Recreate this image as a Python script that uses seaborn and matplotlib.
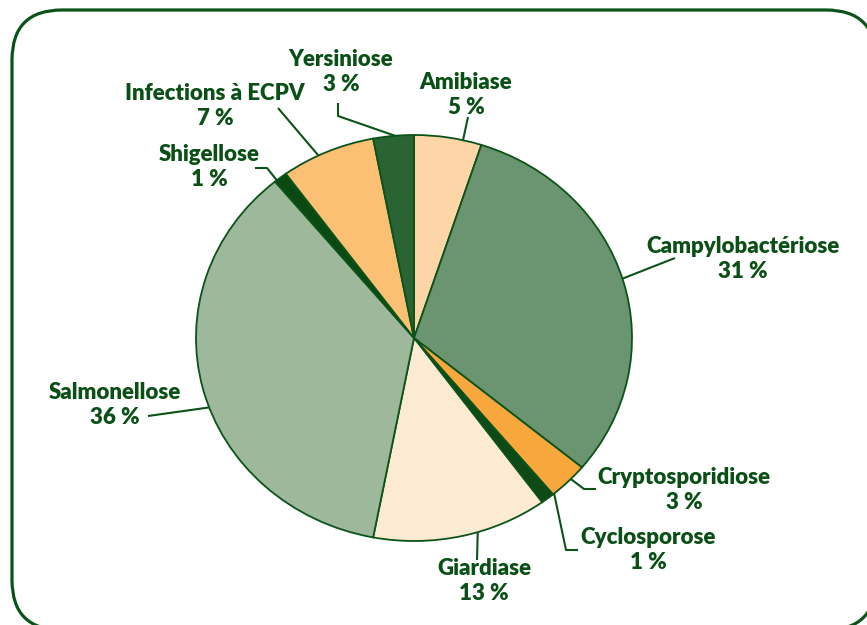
import numpy as np
import matplotlib.pyplot as plt
import seaborn as sns
from matplotlib.patches import FancyBboxPatch

# Share of enteric illness cases by disease (clockwise from 12 o'clock)
diseases = ["Amibiase", "Campylobactériose", "Cryptosporidiose", "Cyclosporose",
            "Giardiase", "Salmonellose", "Shigellose", "Infections à ECPV", "Yersiniose"]
percent = [5, 31, 3, 1, 13, 36, 1, 7, 3]
slice_colors = ["#FDD5A6", "#6B9470", "#F7A73C", "#0D4A16", "#FDEAD2",
                "#9DB89B", "#0A4A12", "#FCC075", "#2A6434"]

# label block centres and leader elbows, in pixels of the 867x625 picture
label_xy = [(466, 95), (743, 259), (684, 490), (648, 550), (484, 581),
            (115, 405), (209, 167), (215, 106), (341, 72)]
leader_pts = [[(468, 117)], [(675, 258)], [(596, 489), (584, 489)],
              [(578, 550), (566, 550)], [(477, 560)], [(148, 416)],
              [(255, 168), (267, 168)], [(278, 108)], [(338, 103), (338, 116)]]
anchor_deg = [77, 17, -44, -50, -73, 200, 129, 116, 95]

GREEN = "#0B5318"
TEXT = "#0A5016"

sns.set_theme(style="white")
plt.rcParams['font.family'] = ['Lato', 'DejaVu Sans']

W, H = 867, 625
fig = plt.figure(figsize=(W / 100, H / 100), dpi=100)

# background axes in pixel units for the frame, labels and leader lines
bg = fig.add_axes([0, 0, 1, 1])
bg.set_xlim(0, W)
bg.set_ylim(H, 0)
bg.axis('off')

frame = FancyBboxPatch((12, 10), 864, 620, boxstyle="round,pad=0,rounding_size=50",
                       facecolor="white", edgecolor=GREEN, linewidth=2.3)
bg.add_patch(frame)

# the pie is slightly wider than tall in the original
cx, cy, rx, ry = 414, 338, 218, 203
ax = fig.add_axes([(cx - rx) / W, (H - cy - ry) / H, 2 * rx / W, 2 * ry / H])
wedges, _ = ax.pie(percent, colors=slice_colors, startangle=90, counterclock=False,
                   wedgeprops=dict(edgecolor=GREEN, linewidth=1.3))
for w in wedges:
    w.set_clip_on(False)
ax.set_aspect('auto')
ax.set_xlim(-1, 1)
ax.set_ylim(-1, 1)
ax.axis('off')

for name, p, (lx, ly), pts, deg in zip(diseases, percent, label_xy, leader_pts, anchor_deg):
    bg.text(lx, ly, f"{name}\n{p} %", ha='center', va='center', fontsize=16,
            fontweight='heavy', color=TEXT, linespacing=1.18, multialignment='center')
    t = np.deg2rad(deg)
    end = (cx + rx * np.cos(t), cy - ry * np.sin(t))
    xs = [q[0] for q in pts] + [end[0]]
    ys = [q[1] for q in pts] + [end[1]]
    bg.plot(xs, ys, color=GREEN, linewidth=1.5, solid_capstyle='butt')

fig.savefig("out.png", dpi=100)
